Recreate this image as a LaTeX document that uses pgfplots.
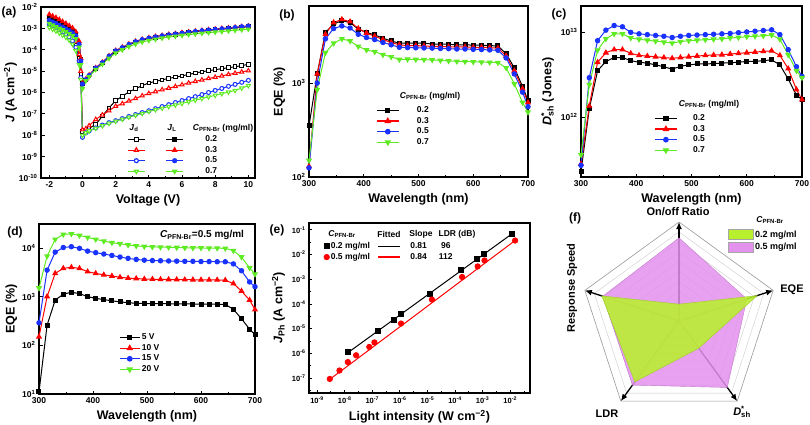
\documentclass[border=0pt]{standalone}
\usepackage{pgfplots}
\pgfplotsset{compat=1.18}
\usepgfplotslibrary{polar}
\usetikzlibrary{arrows.meta}
\usepackage{fontspec}
\setmainfont{Liberation Sans}
\definecolor{cR}{RGB}{255,0,0}
\definecolor{cB}{RGB}{25,50,255}
\definecolor{cG}{RGB}{95,235,35}
\definecolor{fG}{RGB}{185,240,45}
\definecolor{fP}{RGB}{228,145,238}
\newcommand{\tlf}{\fontsize{8.5}{10}\selectfont\bfseries}
\newcommand{\lbf}{\fontsize{12.5}{14}\selectfont\bfseries}
\newcommand{\lgf}{\fontsize{8.5}{10}\selectfont\bfseries}
\newcommand{\Cpfn}{\textit{C}\textsubscript{PFN-Br}}
\newcommand{\decY}{10\textsuperscript{\pgfmathparse{int(round(\tick))}\pgfmathresult}}
\pgfplotsset{
 panel/.style={scale only axis, axis line style={line width=1.1pt}, tick align=inside,
   xtick pos=bottom, ytick pos=left, major tick length=3.5pt, minor tick length=2pt,
   every tick/.style={black, line width=0.8pt}, tick label style={font=\tlf},
   label style={font=\lbf}, /pgf/number format/assume math mode=true,
   legend cell align=left,
   legend style={draw=none, fill=none, font=\lgf, nodes={inner sep=1.5pt, text height=6pt, text depth=1.6pt}, row sep=0pt},
   every axis plot/.append style={line width=1pt}},
 serA/.style={black, line width=1pt, mark=square*, mark size=2pt},
 serB/.style={cR, line width=1pt, mark=triangle*, mark size=2.6pt},
 serC/.style={cB, line width=1pt, mark=*, mark size=2.2pt},
 serD/.style={cG, line width=1pt, mark=triangle*, mark size=2.6pt, mark options={rotate=180}},
 longleg/.style={legend image code/.code={\draw[mark repeat=2,mark phase=2,##1] plot coordinates {(0pt,0pt)(11pt,0pt)(22pt,0pt)};}},
 boxleg/.style={legend image code/.code={\draw[##1] (0pt,-5pt) rectangle (25pt,5pt);}},
}
\begin{document}
\begin{tikzpicture}[x=1pt,y=1pt]
\useasboundingbox (0,0) rectangle (810,424);

% ---------------- (a)
\begin{axis}[panel, ymode=log, log basis y=10, yticklabel={\decY}, at={(41pt,417pt)}, anchor=north west, width=214pt, height=171pt,
  xmin=-2.5, xmax=10.4, ymin=1e-10, ymax=1e-2, xtick={-2,0,...,10}, minor x tick num=1,
  ytick={1e-10,1e-9,1e-8,1e-7,1e-6,1e-5,1e-4,1e-3,1e-2}, yminorticks=false,
  xlabel={Voltage (V)}, ylabel={\textit{J} (A cm\textsuperscript{−2})}, ylabel shift=-5pt,
  legend columns=2,
  legend style={at={(0.388,0.269)}, anchor=north west, /tikz/every even column/.append style={column sep=17pt}},
  every axis plot/.append style={line width=0.9pt}]
\addplot[serA, mark size=1.8pt, mark options={fill=white}, forget plot] table {
x y
-2 2.2e-3
-1.8 1.8e-3
-1.6 1.5e-3
-1.4 1.2e-3
-1.2 9.5e-4
-1 7.5e-4
-0.8 5.5e-4
-0.6 3.5e-4
-0.4 1.7e-4
-0.2 4e-5
-0.1 7e-6
0 1.5e-8
0.2 1.7e-8
0.4 2.1e-8
0.8 3.2e-8
1.2 7.9e-8
1.6 1.9e-7
2.0 4.2e-7
2.4 6.6e-7
2.8 1.07e-6
3.2 1.5e-6
3.6 2.1e-6
4.0 2.8e-6
4.4 3.3e-6
4.8 3.9e-6
5.2 4.6e-6
5.6 5.2e-6
6.0 6e-6
6.4 7e-6
6.8 8.2e-6
7.2 9.3e-6
7.6 1.05e-5
8.0 1.17e-5
8.4 1.3e-5
8.8 1.45e-5
9.2 1.6e-5
9.6 1.8e-5
10 2.1e-5
};
\addplot[serB, mark size=2.3pt, mark options={fill=white}, forget plot] table {
x y
-2 3.3e-3
-1.8 2.8e-3
-1.6 2.3e-3
-1.4 1.8e-3
-1.2 1.4e-3
-1 1.1e-3
-0.8 8e-4
-0.6 5e-4
-0.4 2.4e-4
-0.2 6e-5
-0.1 1e-5
0 1.8e-8
0.2 2e-8
0.4 2.8e-8
0.8 5.5e-8
1.2 9e-8
1.6 1.4e-7
2.0 2.3e-7
2.4 3e-7
2.8 4e-7
3.2 5.2e-7
3.6 7e-7
4.0 9e-7
4.4 1.1e-6
4.8 1.35e-6
5.2 1.6e-6
5.6 1.9e-6
6.0 2.3e-6
6.4 2.8e-6
6.8 3.3e-6
7.2 3.9e-6
7.6 4.5e-6
8.0 5.2e-6
8.4 6e-6
8.8 7e-6
9.2 8e-6
9.6 9.2e-6
10 1.05e-5
};
\addplot[serC, mark size=2pt, mark options={fill=white}, forget plot] table {
x y
-2 1.6e-3
-1.8 1.3e-3
-1.6 1.05e-3
-1.4 8.5e-4
-1.2 6.8e-4
-1 5.3e-4
-0.8 4e-4
-0.6 2.6e-4
-0.4 1.3e-4
-0.2 3e-5
-0.1 5e-6
0 8e-9
0.2 1.3e-8
0.4 1.6e-8
0.8 2.2e-8
1.2 3e-8
1.6 3.9e-8
2.0 4.8e-8
2.4 6e-8
2.8 7.5e-8
3.2 9.3e-8
3.6 1.15e-7
4.0 1.4e-7
4.4 1.75e-7
4.8 2.2e-7
5.2 2.7e-7
5.6 3.4e-7
6.0 4.2e-7
6.4 5.2e-7
6.8 6.4e-7
7.2 8e-7
7.6 1e-6
8.0 1.25e-6
8.4 1.55e-6
8.8 1.95e-6
9.2 2.4e-6
9.6 3e-6
10 3.7e-6
};
\addplot[serD, mark size=2.3pt, mark options={fill=white, rotate=180}, forget plot] table {
x y
-2 1.1e-3
-1.8 9e-4
-1.6 7.5e-4
-1.4 6e-4
-1.2 4.8e-4
-1 3.8e-4
-0.8 2.8e-4
-0.6 1.8e-4
-0.4 9e-5
-0.2 2e-5
-0.1 4e-6
0 1e-8
0.2 1.3e-8
0.4 1.6e-8
0.8 2.1e-8
1.2 2.8e-8
1.6 3.6e-8
2.0 4.5e-8
2.4 5.6e-8
2.8 7e-8
3.2 8.6e-8
3.6 1.05e-7
4.0 1.3e-7
4.4 1.55e-7
4.8 1.85e-7
5.2 2.2e-7
5.6 2.6e-7
6.0 3.1e-7
6.4 3.7e-7
6.8 4.4e-7
7.2 5.2e-7
7.6 6.2e-7
8.0 7.4e-7
8.4 8.8e-7
8.8 1.05e-6
9.2 1.25e-6
9.6 1.6e-6
10 2.1e-6
};
\addplot[serA, mark size=1.8pt, forget plot] table {
x y
-2 3.2e-3
-1.8 2.7e-3
-1.6 2.2e-3
-1.4 1.8e-3
-1.2 1.5e-3
-1 1.2e-3
-0.8 9.5e-4
-0.6 7.5e-4
-0.4 5.2e-4
-0.2 2e-4
-0.1 3.5e-5
0 2.6e-6
0.2 3.8e-6
0.4 6e-6
0.8 1.3e-5
1.2 2.4e-5
1.6 4.7e-5
2 8.4e-5
2.4 1.2e-4
2.8 1.7e-4
3.2 2.3e-4
3.6 2.85e-4
4 3.3e-4
4.4 3.8e-4
4.8 4.3e-4
5.2 4.8e-4
5.6 5.3e-4
6 5.8e-4
6.4 6.3e-4
6.8 6.9e-4
7.2 7.4e-4
7.6 8e-4
8 8.6e-4
8.4 9.2e-4
8.8 9.8e-4
9.2 1.05e-3
9.6 1.12e-3
10 1.2e-3
};
\addplot[serB, mark size=2.3pt, forget plot] table {
x y
-2 4.5e-3
-1.8 3.8e-3
-1.6 3.2e-3
-1.4 2.6e-3
-1.2 2.1e-3
-1 1.7e-3
-0.8 1.35e-3
-0.6 1.05e-3
-0.4 7e-4
-0.2 2.5e-4
-0.1 4e-5
0 2.8e-6
0.2 4.2e-6
0.4 6.6e-6
0.8 1.45e-5
1.2 2.6e-5
1.6 5.2e-5
2 9.3e-5
2.4 1.32e-4
2.8 1.85e-4
3.2 2.5e-4
3.6 3.1e-4
4 3.65e-4
4.4 4.2e-4
4.8 4.7e-4
5.2 5.2e-4
5.6 5.7e-4
6 6.3e-4
6.4 6.9e-4
6.8 7.5e-4
7.2 8.1e-4
7.6 8.7e-4
8 9.3e-4
8.4 1e-3
8.8 1.06e-3
9.2 1.13e-3
9.6 1.22e-3
10 1.3e-3
};
\addplot[serC, mark size=2pt, forget plot] table {
x y
-2 2.4e-3
-1.8 2e-3
-1.6 1.7e-3
-1.4 1.4e-3
-1.2 1.15e-3
-1 9.5e-4
-0.8 7.8e-4
-0.6 6.2e-4
-0.4 4.5e-4
-0.2 1.8e-4
-0.1 3e-5
0 2.5e-6
0.2 4e-6
0.4 6.3e-6
0.8 1.4e-5
1.2 2.5e-5
1.6 5e-5
2 8.9e-5
2.4 1.26e-4
2.8 1.78e-4
3.2 2.4e-4
3.6 3e-4
4 3.5e-4
4.4 4e-4
4.8 4.5e-4
5.2 5e-4
5.6 5.5e-4
6 6e-4
6.4 6.6e-4
6.8 7.2e-4
7.2 7.8e-4
7.6 8.4e-4
8 9e-4
8.4 9.6e-4
8.8 1.02e-3
9.2 1.1e-3
9.6 1.2e-3
10 1.3e-3
};
\addplot[serD, mark size=2.3pt, forget plot] table {
x y
-2 1.7e-3
-1.8 1.45e-3
-1.6 1.2e-3
-1.4 1e-3
-1.2 8.5e-4
-1 7e-4
-0.8 5.8e-4
-0.6 4.6e-4
-0.4 3.3e-4
-0.2 1.3e-4
-0.1 2e-5
0 1.5e-6
0.2 3.5e-6
0.4 5.5e-6
0.8 1.2e-5
1.2 2.1e-5
1.6 4e-5
2 7e-5
2.4 1e-4
2.8 1.4e-4
3.2 1.85e-4
3.6 2.3e-4
4 2.7e-4
4.4 3.1e-4
4.8 3.5e-4
5.2 3.9e-4
5.6 4.3e-4
6 4.7e-4
6.4 5.1e-4
6.8 5.5e-4
7.2 5.9e-4
7.6 6.3e-4
8 6.7e-4
8.4 7.1e-4
8.8 7.6e-4
9.2 8.1e-4
9.6 8.6e-4
10 9.2e-4
};
\addlegendimage{serA, line width=1.2pt, mark size=1.8pt, mark options={fill=white}}\addlegendentry{}
\addlegendimage{serA, line width=1.2pt, mark size=1.8pt}\addlegendentry{\hspace{20pt}0.2}
\addlegendimage{serB, line width=1.2pt, mark size=2.3pt, mark options={fill=white}}\addlegendentry{}
\addlegendimage{serB, line width=1.2pt, mark size=2.3pt}\addlegendentry{\hspace{20pt}0.3}
\addlegendimage{serC, line width=1.2pt, mark size=2pt, mark options={fill=white}}\addlegendentry{}
\addlegendimage{serC, line width=1.2pt, mark size=2pt}\addlegendentry{\hspace{20pt}0.5}
\addlegendimage{serD, line width=1.2pt, mark size=2.3pt, mark options={fill=white, rotate=180}}\addlegendentry{}
\addlegendimage{serD, line width=1.2pt, mark size=2.3pt}\addlegendentry{\hspace{20pt}0.7}
\end{axis}

% ---------------- (b)
\begin{axis}[panel, ymode=log, log basis y=10, yticklabel={\decY}, at={(309pt,418pt)}, anchor=north west, width=219pt, height=171pt,
  xmin=300, xmax=700, ymin=100, ymax=6600, xtick={300,400,...,700}, minor x tick num=1,
  ytick={100,1000}, xlabel={Wavelength (nm)}, ylabel={EQE (\%)},
  legend style={at={(0.292,0.433)}, anchor=north west}, longleg]
\addplot[serA, forget plot] table {
x y
300 350
315 1250
330 3450
345 4250
360 4600
375 4400
390 3750
405 3450
420 3250
435 3000
450 2800
465 2650
480 2650
495 2650
510 2650
525 2600
540 2600
555 2580
570 2550
585 2550
600 2530
615 2520
630 2500
645 2480
660 2050
675 1450
690 920
700 650
};
\addplot[serB, forget plot] table {
x y
300 130
315 1250
330 3300
345 4400
360 4750
375 4500
390 3800
405 3400
420 3150
435 2900
450 2700
465 2550
480 2500
495 2500
510 2480
525 2450
540 2450
555 2430
570 2420
585 2420
600 2400
615 2400
630 2380
645 2350
660 1950
675 1350
690 870
700 620
};
\addplot[serC, forget plot] table {
x y
300 125
315 1000
330 2950
345 3800
360 4050
375 3850
390 3300
405 3050
420 2900
435 2700
450 2550
465 2400
480 2380
495 2370
510 2360
525 2350
540 2330
555 2320
570 2300
585 2300
600 2280
615 2270
630 2250
645 2230
660 1850
675 1250
690 800
700 560
};
\addplot[serD, forget plot] table {
x y
300 150
315 850
330 2100
345 2650
360 2950
375 2800
390 2450
405 2250
420 2150
435 2000
450 1900
465 1780
480 1790
495 1780
510 1770
525 1760
540 1740
555 1720
570 1700
585 1690
600 1680
615 1670
630 1660
645 1650
660 1450
675 980
690 620
700 490
};
\addlegendimage{serA, line width=1.3pt}\addlegendentry{\hspace{16pt}0.2}
\addlegendimage{serB, line width=1.3pt}\addlegendentry{\hspace{16pt}0.3}
\addlegendimage{serC, line width=1.3pt}\addlegendentry{\hspace{16pt}0.5}
\addlegendimage{serD, line width=1.3pt}\addlegendentry{\hspace{16pt}0.7}
\end{axis}

% ---------------- (c)
\begin{axis}[panel, ymode=log, log basis y=10, yticklabel={\decY}, at={(581pt,418pt)}, anchor=north west, width=221pt, height=171pt,
  xmin=300, xmax=700, ymin=1.97e11, ymax=2.02e13, xtick={300,400,...,700}, minor x tick num=1,
  ytick={1e12,1e13}, xlabel={Wavelength (nm)},
  ylabel={\textit{D}\makebox[0pt][l]{\textsuperscript{*}}\textsubscript{sh} (Jones)},
  legend style={at={(0.317,0.386)}, anchor=north west}, longleg]
\addplot[serA, forget plot] table {
x y
300 2.3e11
315 1.25e12
330 3.5e12
345 4.5e12
360 5e12
375 5e12
390 4.6e12
405 4.4e12
420 4.3e12
435 4.1e12
450 3.9e12
465 3.65e12
480 3.95e12
495 4.1e12
510 4.2e12
525 4.2e12
540 4.25e12
555 4.3e12
570 4.35e12
585 4.4e12
600 4.5e12
615 4.5e12
630 4.6e12
645 4.7e12
660 4.1e12
675 2.8e12
690 1.8e12
700 1.6e12
};
\addplot[serB, forget plot] table {
x y
300 2.8e11
315 1.35e12
330 4.4e12
345 5.7e12
360 6.2e12
375 6.2e12
390 5.6e12
405 5.3e12
420 5.2e12
435 5.1e12
450 5.0e12
465 4.9e12
480 5.0e12
495 5.1e12
510 5.2e12
525 5.3e12
540 5.35e12
555 5.4e12
570 5.5e12
585 5.6e12
600 5.7e12
615 5.8e12
630 5.9e12
645 6.0e12
660 5.3e12
675 3.7e12
690 2.1e12
700 1.6e12
};
\addplot[serC, forget plot] table {
x y
300 2.7e11
315 2.9e12
330 7.9e12
345 1.05e13
360 1.19e13
375 1.15e13
390 9.9e12
405 9.5e12
420 9.3e12
435 9.1e12
450 8.9e12
465 8.6e12
480 8.9e12
495 9.1e12
510 9.2e12
525 9.3e12
540 9.4e12
555 9.5e12
570 9.6e12
585 9.8e12
600 1.0e13
615 1.02e13
630 1.04e13
645 1.06e13
660 9.3e12
675 6.2e12
690 3.9e12
700 3.0e12
};
\addplot[serD, forget plot] table {
x y
300 3.6e11
315 2.4e12
330 6.1e12
345 8.3e12
360 9.5e12
375 9.5e12
390 8.5e12
405 8.2e12
420 8.0e12
435 7.8e12
450 7.6e12
465 7.4e12
480 7.7e12
495 7.9e12
510 8.0e12
525 8.1e12
540 8.2e12
555 8.3e12
570 8.5e12
585 8.6e12
600 8.8e12
615 8.9e12
630 9.0e12
645 9.2e12
660 8.2e12
675 5.4e12
690 3.5e12
700 2.9e12
};
\addlegendimage{serA, line width=1.3pt}\addlegendentry{\hspace{14pt}0.2}
\addlegendimage{serB, line width=1.3pt}\addlegendentry{\hspace{14pt}0.3}
\addlegendimage{serC, line width=1.3pt}\addlegendentry{\hspace{14pt}0.5}
\addlegendimage{serD, line width=1.3pt}\addlegendentry{\hspace{14pt}0.7}
\end{axis}

% ---------------- (d)
\begin{axis}[panel, ymode=log, log basis y=10, yticklabel={\decY}, at={(39pt,200pt)}, anchor=north west, width=216pt, height=170pt,
  xmin=300, xmax=700, ymin=10, ymax=3.1e4, xtick={300,400,...,700}, minor x tick num=1,
  ytick={10,100,1000,10000}, xlabel={Wavelength (nm)}, ylabel={EQE (\%)}, ylabel shift=-2pt,
  legend style={at={(0.356,0.376)}, anchor=north west},
  legend image code/.code={\draw[mark repeat=2,mark phase=2,#1] plot coordinates {(0pt,0pt)(10pt,0pt)(20pt,0pt)};}]
\addplot[serA, forget plot] table {
x y
300 11
315 260
330 850
345 1120
360 1230
375 1150
390 1000
405 920
420 870
435 820
450 780
465 750
480 730
495 720
510 720
525 715
540 715
555 710
570 710
585 705
600 700
615 700
630 700
645 690
660 550
675 350
690 215
700 165
};
\addplot[serB, forget plot] table {
x y
300 150
315 1000
330 3000
345 3800
360 4000
375 3800
390 3250
405 3000
420 2800
435 2650
450 2500
465 2400
480 2350
495 2300
510 2280
525 2260
540 2250
555 2240
570 2230
585 2220
600 2210
615 2200
630 2200
645 2180
660 1850
675 1300
690 850
700 540
};
\addplot[serC, forget plot] table {
x y
300 290
315 3500
330 8200
345 10200
360 10600
375 9800
390 8600
405 8000
420 7500
435 7000
450 6500
465 6100
480 5800
495 5600
510 5500
525 5450
540 5400
555 5350
570 5300
585 5300
600 5250
615 5250
630 5200
645 5200
660 4700
675 3400
690 2000
700 1600
};
\addplot[serD, forget plot] table {
x y
300 1500
315 6800
330 15000
345 19000
360 19500
375 18000
390 16500
405 15000
420 13800
435 12800
450 12200
465 11500
480 11000
495 10700
510 10500
525 10400
540 10300
555 10200
570 10100
585 10000
600 10000
615 9900
630 9900
645 9800
660 8800
675 6500
690 3900
700 2900
};
\addlegendimage{serA, line width=1.3pt}\addlegendentry{5 V}
\addlegendimage{serB, line width=1.3pt}\addlegendentry{10 V}
\addlegendimage{serC, line width=1.3pt}\addlegendentry{15 V}
\addlegendimage{serD, line width=1.3pt}\addlegendentry{20 V}
\end{axis}

% ---------------- (e)
\begin{axis}[panel, xmode=log, ymode=log, log basis x=10, log basis y=10, xticklabel={\decY}, yticklabel={\decY},
  at={(309pt,201pt)}, anchor=north west, width=221pt, height=170pt,
  xmin=5.1e-10, xmax=5.2e-2, ymin=2.45e-8, ymax=0.19,
  xtick={1e-9,1e-8,1e-7,1e-6,1e-5,1e-4,1e-3,1e-2},
  minor xtick={3.16e-9,3.16e-8,3.16e-7,3.16e-6,3.16e-5,3.16e-4,3.16e-3,3.16e-2},
  ytick={1e-7,1e-6,1e-5,1e-4,1e-3,1e-2,1e-1},
  minor ytick={3.16e-8,3.16e-7,3.16e-6,3.16e-5,3.16e-4,3.16e-3,3.16e-2},
  tick label style={font=\fontsize{7.5}{9}\selectfont\bfseries},
  xlabel={Light intensity (W cm\textsuperscript{−2})},
  ylabel={\textit{J}\textsubscript{Ph} (A cm\textsuperscript{−2})},
  legend columns=2,
  legend style={at={(0.054,0.906)}, anchor=north west, /tikz/every even column/.append style={column sep=6pt}}]
\addplot[black, line width=1pt, forget plot] coordinates {(1.3e-8,1.05e-6) (1.15e-2,6.9e-2)};
\addplot[cR, line width=1pt, forget plot] coordinates {(2.9e-9,8.8e-8) (1.5e-2,3.7e-2)};
\addplot[only marks, black, mark=square*, mark size=2.5pt, forget plot] table {
x y
1.3e-8 1.1e-6
1.6e-7 8.3e-6
6e-7 2.3e-5
1.1e-6 3.9e-5
1.2e-5 2.5e-4
1.6e-4 2.3e-3
6.2e-4 6.7e-3
1.15e-3 1.04e-2
1.15e-2 6.9e-2
};
\addplot[only marks, cR, mark=*, mark size=2.6pt, forget plot] table {
x y
2.9e-9 9.1e-8
6.5e-9 2e-7
1.3e-8 4.4e-7
2.6e-8 8.3e-7
7.8e-8 1.8e-6
1.2e-7 2.75e-6
1.1e-6 1.6e-5
1.45e-5 1.5e-4
1.8e-4 1.23e-3
6.6e-4 3.3e-3
1.17e-3 5.8e-3
1.5e-2 3.7e-2
};
\addlegendimage{only marks, black, mark=square*, mark size=2.5pt}\addlegendentry{0.2 mg/ml}
\addlegendimage{black, line width=1.3pt, longleg}\addlegendentry{\hspace{8pt}\makebox[16pt][l]{0.81}\hspace{13pt}\makebox[13pt][c]{96}}
\addlegendimage{only marks, cR, mark=*, mark size=2.6pt}\addlegendentry{0.5 mg/ml}
\addlegendimage{cR, line width=1.3pt, longleg}\addlegendentry{\hspace{8pt}\makebox[16pt][l]{0.84}\hspace{13pt}\makebox[13pt][c]{112}}
\end{axis}

% ---------------- (f)
\begin{polaraxis}[at={(679pt,103pt)}, anchor=center, scale only axis, width=198pt, height=198pt,
  hide axis, ymin=0, ymax=1, clip=false, legend cell align=left,
  legend style={draw=none, fill=none, font=\fontsize{9}{11}\selectfont\bfseries, at={(0.732,0.975)}, anchor=north west, row sep=1.5pt, nodes={inner sep=1.5pt}}]
\pgfplotsinvokeforeach{0.1,0.2,0.3,0.4,0.5,0.6,0.7,0.8,0.9}{
\addplot[gray!45, line width=0.35pt, forget plot] coordinates {(90,#1) (18,#1) (306,#1) (234,#1) (162,#1) (90,#1)};
}
\addplot[gray!80, line width=0.6pt, forget plot] coordinates {(90,1) (18,1) (306,1) (234,1) (162,1) (90,1)};
\addplot[black, line width=1.3pt, -{Latex[length=7pt,width=6pt]}, forget plot] coordinates {(0,0) (90,1)};
\addplot[black, line width=1.3pt, -{Latex[length=7pt,width=6pt]}, forget plot] coordinates {(0,0) (18,1)};
\addplot[black, line width=1.3pt, -{Latex[length=7pt,width=6pt]}, forget plot] coordinates {(0,0) (306,1)};
\addplot[black, line width=1.3pt, -{Latex[length=7pt,width=6pt]}, forget plot] coordinates {(0,0) (234,1)};
\addplot[black, line width=1.3pt, -{Latex[length=7pt,width=6pt]}, forget plot] coordinates {(0,0) (162,1)};
\addplot[fill=fP, draw=fP!85!black, line width=0.4pt, fill opacity=0.85, forget plot] coordinates {(90,0.84) (18,0.72) (306,0.83) (234,0.80) (162,0.81) (90,0.84)};
\addplot[fill=fG, draw=fG!85!black, line width=0.4pt, fill opacity=0.88, forget plot] coordinates {(90,0.17) (18,0.83) (306,0.34) (234,0.76) (162,0.82) (90,0.17)};
\addlegendimage{boxleg, fill=fG, draw=gray!70}\addlegendentry{0.2 mg/ml}
\addlegendimage{boxleg, fill=fP, draw=gray!70}\addlegendentry{0.5 mg/ml}
\end{polaraxis}

% ---------------- texts
\begin{scope}[every node/.style={font=\fontsize{12}{14}\selectfont\bfseries}]
\node at (9,412) {(a)};
\node at (287,409) {(b)};
\node at (559,410) {(c)};
\node at (15,192) {(d)};
\node at (277,194) {(e)};
\node at (575,206) {(f)};
\end{scope}
\begin{scope}[every node/.style={font=\fontsize{8.5}{10}\selectfont\bfseries}]
\node at (134,296) {\textit{J}\textsubscript{d}};
\node at (172,296) {\textit{J}\textsubscript{L}};
\node at (223,296) {\Cpfn\ (mg/ml)};
\node at (430,328) {\Cpfn\ (mg/ml)};
\node at (709,320) {\Cpfn\ (mg/ml)};
\node at (342,190) {\Cpfn};
\node at (389,190) {Fitted};
\node at (421,190) {Slope};
\node at (457,190) {LDR (dB)};
\node at (770,204) {\Cpfn};
\end{scope}
\node[font=\fontsize{10}{12}\selectfont\bfseries] at (202,189) {\Cpfn=0.5 mg/ml};
\begin{scope}[every node/.style={font=\fontsize{11}{13}\selectfont\bfseries}]
\node at (678,212) {On/off Ratio};
\node at (792,134) {EQE};
\node[rotate=90] at (572,136) {Response Speed};
\node at (607,10) {LDR};
\node at (742,12) {\textit{D}\makebox[0pt][l]{\textsuperscript{*}}\textsubscript{sh}};
\end{scope}
\end{tikzpicture}
\end{document}
